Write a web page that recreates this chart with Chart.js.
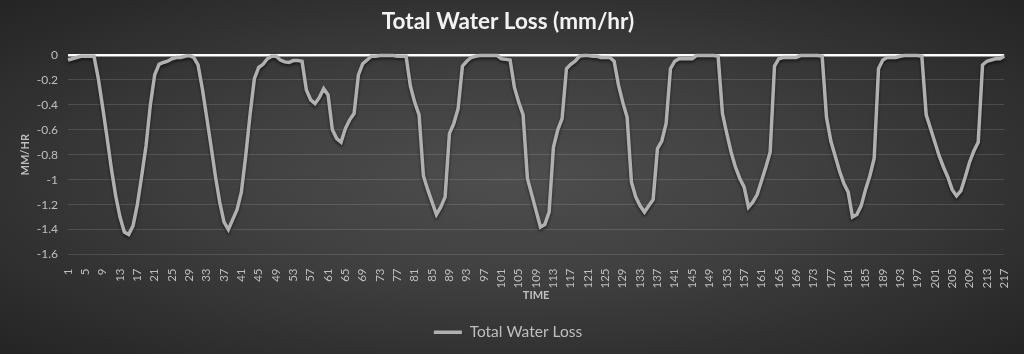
<!DOCTYPE html>
<html>
<head>
<meta charset="utf-8">
<title>Total Water Loss</title>
<script src="https://cdn.jsdelivr.net/npm/chart.js@4"></script>
<style>
  html, body { margin: 0; padding: 0; }
  body { width: 1024px; height: 354px; overflow: hidden;
    background: radial-gradient(ellipse at 50% 50%, #4e4e4e 0%, #404040 40%, #242424 100%); }
  #chart { display: block; }
</style>
</head>
<body>
<canvas id="chart" width="1024" height="354"></canvas>
<script>
// Time steps 1..217
const timeSteps = Array.from({ length: 217 }, (_, i) => String(i + 1));

// Water loss in mm/hr
const waterLoss = [
  -0.04, -0.03, -0.02, -0.01, -0.01, -0.01, -0.01, -0.19, -0.42, -0.66,
  -0.91, -1.13, -1.30, -1.42, -1.44, -1.37, -1.20, -0.97, -0.73, -0.40,
  -0.16, -0.075, -0.06, -0.05, -0.03, -0.02, -0.02, -0.01, -0.005, -0.02,
  -0.08, -0.27, -0.50, -0.73, -0.97, -1.18, -1.34, -1.40, -1.32, -1.24,
  -1.10, -0.81, -0.48, -0.19, -0.10, -0.075, -0.03, -0.01, -0.01, -0.04,
  -0.055, -0.06, -0.045, -0.045, -0.05, -0.28, -0.36, -0.39, -0.34, -0.27,
  -0.32, -0.60, -0.67, -0.70, -0.59, -0.52, -0.47, -0.16, -0.07, -0.04,
  -0.01, -0.01, -0.005, -0.005, -0.005, -0.005, -0.01, -0.01, -0.01, -0.25,
  -0.38, -0.48, -0.97, -1.08, -1.18, -1.28, -1.22, -1.14, -0.63, -0.55,
  -0.43, -0.09, -0.05, -0.02, -0.01, -0.005, -0.005, -0.005, -0.005, -0.005,
  -0.03, -0.035, -0.04, -0.26, -0.38, -0.48, -0.99, -1.12, -1.25, -1.38,
  -1.36, -1.26, -0.74, -0.60, -0.51, -0.11, -0.075, -0.05, -0.01, -0.005,
  -0.005, -0.01, -0.01, -0.02, -0.02, -0.02, -0.05, -0.24, -0.38, -0.50,
  -1.02, -1.14, -1.21, -1.26, -1.21, -1.16, -0.75, -0.69, -0.55, -0.11,
  -0.05, -0.03, -0.03, -0.03, -0.03, -0.005, -0.005, -0.005, -0.005, -0.005,
  -0.01, -0.47, -0.63, -0.78, -0.90, -0.99, -1.06, -1.22, -1.18, -1.12,
  -1.01, -0.90, -0.78, -0.09, -0.03, -0.02, -0.02, -0.02, -0.02, -0.005,
  -0.005, -0.005, -0.005, -0.005, -0.01, -0.50, -0.69, -0.81, -0.93, -1.03,
  -1.10, -1.30, -1.28, -1.21, -1.08, -0.97, -0.83, -0.11, -0.04, -0.02,
  -0.02, -0.02, -0.01, -0.005, -0.005, -0.005, -0.005, -0.01, -0.48, -0.59,
  -0.70, -0.81, -0.90, -0.98, -1.08, -1.13, -1.09, -0.98, -0.86, -0.77,
  -0.70, -0.08, -0.05, -0.04, -0.03, -0.03, -0.01
];

// Y axis range
const yMin = -1.6;
const yMax = 0;
const yStep = 0.2;

const labelColor = "#bfbfbf";
const fontFamily = "Lato, 'Open Sans', sans-serif";

// soft shadow under the line
const lineShadow = {
  id: "lineShadow",
  beforeDatasetsDraw(chart) {
    const ctx = chart.ctx;
    ctx.save();
    ctx.shadowColor = "rgba(0,0,0,0.55)";
    ctx.shadowBlur = 3;
    ctx.shadowOffsetY = 2;
  },
  afterDatasetsDraw(chart) {
    chart.ctx.restore();
  }
};

new Chart(document.getElementById("chart"), {
  type: "line",
  data: {
    labels: timeSteps,
    datasets: [{
      label: "Total Water Loss",
      data: waterLoss,
      borderColor: "#b0b0b0",
      backgroundColor: "#b0b0b0",
      borderWidth: 3.5,
      pointRadius: 0,
      tension: 0,
      clip: 6
    }]
  },
  options: {
    responsive: false,
    animation: false,
    layout: { padding: { left: 8, right: 16, top: 0, bottom: 4 } },
    plugins: {
      title: {
        display: true,
        text: "Total Water Loss (mm/hr)",
        color: "#f2f2f2",
        font: { family: fontFamily, size: 22.5, weight: "bold" },
        padding: { top: 8, bottom: 20 }
      },
      legend: {
        position: "bottom",
        labels: {
          color: labelColor,
          font: { family: fontFamily, size: 15.5 },
          usePointStyle: true,
          pointStyle: "line",
          pointStyleWidth: 28,
          padding: 8
        }
      },
      tooltip: { enabled: false }
    },
    scales: {
      x: {
        type: "category",
        offset: false,
        grid: { display: false },
        border: { display: false },
        ticks: {
          autoSkip: false,
          maxRotation: 90,
          minRotation: 90,
          color: labelColor,
          font: { family: fontFamily, size: 11.5 },
          padding: 6,
          callback: function (val, idx) {
            return idx % 4 === 0 ? this.getLabelForValue(val) : null;
          }
        },
        title: {
          display: true,
          text: "TIME",
          color: labelColor,
          font: { family: fontFamily, size: 11, weight: "bold" },
          padding: { top: 0, bottom: 14 }
        },
        afterFit: (scale) => { scale.height = 62; }
      },
      y: {
        min: yMin,
        max: yMax,
        border: { display: false },
        grid: {
          color: (c) => c.tick && c.tick.value === 0 ? "#ffffff" : "rgba(255,255,255,0.13)",
          lineWidth: (c) => c.tick && c.tick.value === 0 ? 2.5 : 1,
          drawTicks: false
        },
        ticks: {
          stepSize: yStep,
          color: labelColor,
          font: { family: fontFamily, size: 12 },
          padding: 10,
          callback: (v) => {
            const n = Number(v.toFixed(1));
            return n === 0 ? "0" : String(n);
          }
        },
        title: {
          display: true,
          text: "MM/HR",
          color: labelColor,
          font: { family: fontFamily, size: 11, weight: "bold" },
          padding: { top: 11, bottom: 4 }
        },
        afterFit: (scale) => { scale.width = 60; }
      }
    }
  },
  plugins: [lineShadow]
});
</script>
</body>
</html>
